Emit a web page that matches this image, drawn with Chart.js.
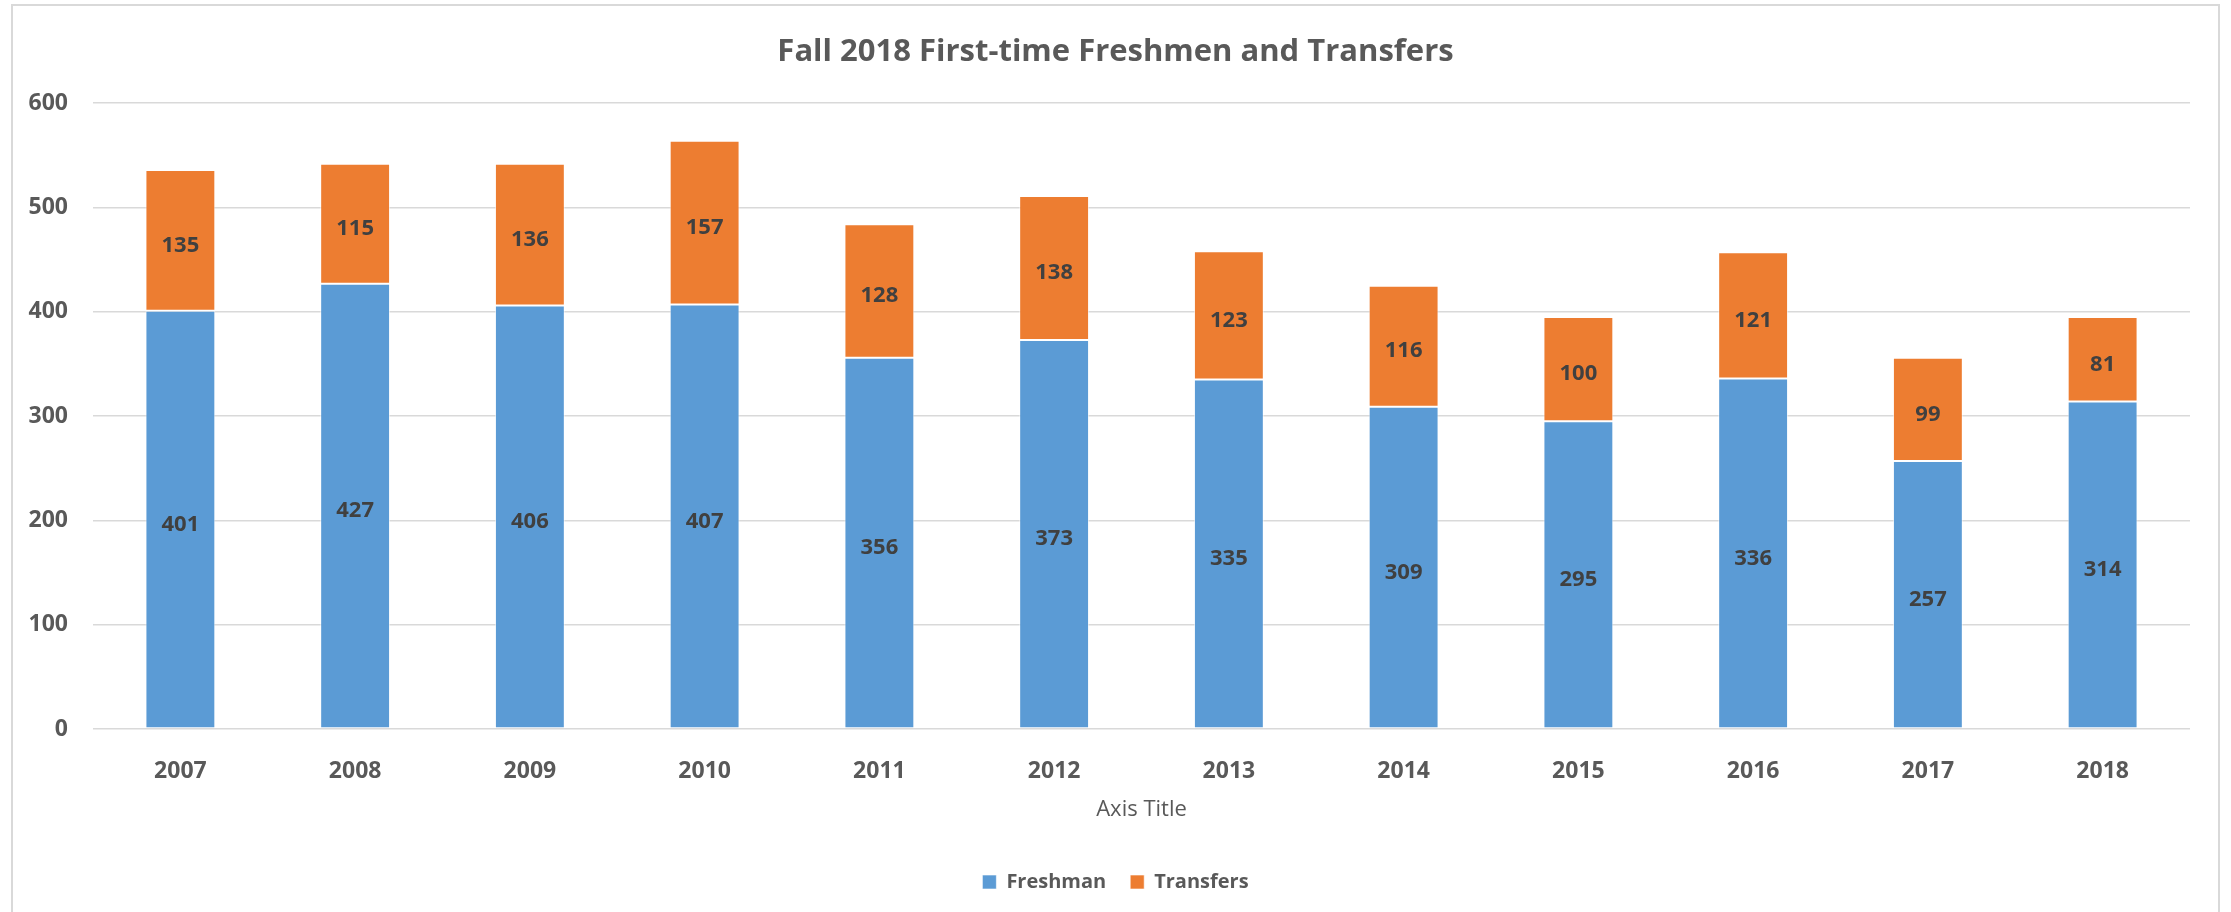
<!DOCTYPE html>
<html><head><meta charset="utf-8">
<script src="https://cdn.jsdelivr.net/npm/chart.js@4/dist/chart.umd.min.js"></script>
<style>html,body{margin:0;padding:0;background:#fff}#wrap{width:2231px;height:912px;position:relative}</style>
</head><body><div id="wrap"><canvas id="c" width="2231" height="912"></canvas></div>
<script>
const years = ['2007','2008','2009','2010','2011','2012','2013','2014','2015','2016','2017','2018'];
const freshman = [401, 427, 406, 407, 356, 373, 335, 309, 295, 336, 257, 314];
const transfers = [135, 115, 136, 157, 128, 138, 123, 116, 100, 121, 99, 81];
const yTicks = [0, 100, 200, 300, 400, 500, 600];
const seriesNames = ['Freshman', 'Transfers'];
const chartTitle = 'Fall 2018 First-time Freshmen and Transfers';
const xAxisTitle = 'Axis Title';

const FONT = '"Open Sans"';
const TXT = '#595959';

const frame = {
  id: 'frame',
  beforeDraw(chart) {
    const ctx = chart.ctx;
    ctx.save();
    ctx.fillStyle = '#fff';
    ctx.fillRect(0, 0, chart.width, chart.height);
    ctx.strokeStyle = '#d9d9d9';
    ctx.lineWidth = 2;
    ctx.strokeRect(12, 5, 2207, 920);
    ctx.restore();
  }
};

const valueLabels = {
  id: 'valueLabels',
  afterDatasetsDraw(chart) {
    const ctx = chart.ctx;
    ctx.save();
    ctx.font = 'bold 22px ' + FONT;
    ctx.fillStyle = '#404040';
    ctx.textAlign = 'center';
    ctx.textBaseline = 'middle';
    chart.data.datasets.forEach((ds, i) => {
      const meta = chart.getDatasetMeta(i);
      meta.data.forEach((bar, j) => {
        const p = bar.getProps(['x', 'y', 'base'], true);
        ctx.fillText(String(ds.data[j]), p.x, (p.y + p.base) / 2 + 5);
      });
    });
    ctx.restore();
  }
};

new Chart(document.getElementById('c'), {
  type: 'bar',
  data: {
    labels: years,
    datasets: [
      { label: seriesNames[0], data: freshman, backgroundColor: '#5B9BD5', borderColor: 'rgba(255,255,255,0.6)', borderWidth: 1, borderSkipped: false, categoryPercentage: 1, barPercentage: 0.4 },
      { label: seriesNames[1], data: transfers, backgroundColor: '#ED7D31', borderColor: 'rgba(255,255,255,0.6)', borderWidth: 1, borderSkipped: false, categoryPercentage: 1, barPercentage: 0.4 }
    ]
  },
  options: {
    responsive: false,
    animation: false,
    devicePixelRatio: 1,
    layout: { padding: { left: 0, right: 0, top: 0, bottom: 10 } },
    plugins: {
      title: {
        display: true, text: chartTitle, color: TXT,
        font: { family: FONT, size: 31, weight: 'bold', lineHeight: 1.2 },
        padding: { top: 34, bottom: 32 }
      },
      legend: {
        position: 'bottom',
        labels: {
          color: TXT, boxWidth: 14, boxHeight: 14, padding: 24,
          font: { family: FONT, size: 20, weight: 'bold' }
        }
      },
      tooltip: { enabled: false }
    },
    scales: {
      x: {
        stacked: true,
        grid: { display: false, drawTicks: false },
        border: { display: false },
        ticks: { color: TXT, padding: 29, font: { family: FONT, size: 23, weight: 'bold', lineHeight: 1.2 } },
        title: { display: true, text: xAxisTitle, color: TXT, font: { family: FONT, size: 22, lineHeight: 1.2 }, padding: { top: 0, bottom: 25 } },
        afterFit(s) { s.height = 119; }
      },
      y: {
        stacked: true,
        min: yTicks[0], max: yTicks[yTicks.length - 1],
        afterBuildTicks(s) { s.ticks = yTicks.map(v => ({ value: v })); },
        grid: { color: '#d9d9d9', lineWidth: 1.5, drawTicks: false },
        border: { display: false },
        ticks: { color: TXT, padding: 25, font: { family: FONT, size: 23, weight: 'bold' } },
        afterFit(s) { s.width = 93; }
      },
      yRight: {
        type: 'linear', position: 'right', display: true,
        grid: { display: false, drawTicks: false },
        border: { display: false },
        ticks: { display: false },
        afterFit(s) { s.width = 41; }
      }
    }
  },
  plugins: [frame, valueLabels]
});
</script>
</body></html>
